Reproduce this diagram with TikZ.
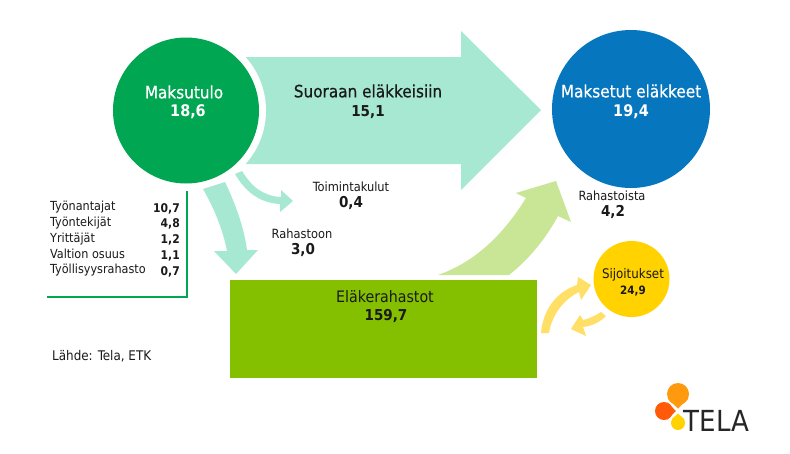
\documentclass[tikz,border=0pt]{standalone}
\usepackage{fontspec}
\setmainfont{DejaVu Sans Condensed}
\newfontfamily\semib[FakeBold=0.5]{DejaVu Sans Condensed}
\definecolor{mint}{HTML}{A6E8D2}
\definecolor{dgreen}{HTML}{00A651}
\definecolor{blueC}{HTML}{0677BF}
\definecolor{lime}{HTML}{84BF00}
\definecolor{paleLime}{HTML}{C9E596}
\definecolor{gold}{HTML}{FFD200}
\definecolor{paleGold}{HTML}{FFDF66}
\definecolor{txt}{HTML}{1A1A1A}
\definecolor{logoO}{HTML}{FF9A0E}
\definecolor{logoR}{HTML}{FF5A0A}
\tikzset{
  lbl/.style={font=\fontsize{12.7}{14}\selectfont, text=txt, inner sep=0pt},
  val/.style={font=\fontsize{15}{17}\selectfont\bfseries, text=txt, inner sep=0pt},
  big/.style={font=\fontsize{17}{19}\selectfont\semib, text=txt, inner sep=0pt},
  wbig/.style={font=\fontsize{17}{19}\selectfont\semib, text=white, inner sep=0pt},
  wval/.style={font=\fontsize{16}{19}\selectfont\bfseries, text=white, inner sep=0pt},
  row/.style={font=\fontsize{12.5}{14}\selectfont, text=txt, inner sep=0pt, anchor=west},
  rowv/.style={font=\fontsize{12}{14}\selectfont\bfseries, text=txt, inner sep=0pt, anchor=east},
}
\begin{document}
\begin{tikzpicture}[x=1pt,y=-1pt]
\useasboundingbox (0,0) rectangle (790,453);
\fill[white] (0,0) rectangle (790,453);
% big arrow
\fill[mint] (230,57) -- (461,57) -- (461,31) -- (541,110) -- (461,190) -- (461,164) -- (230,164) -- cycle;
\fill[white] (186,110.5) circle (80);
\node[big] (a1) at (368,91) {Suoraan eläkkeisiin};
\node[val] (a1v) at (368,112) {15,1};
% circles
\node[circle,fill=dgreen,minimum size=146pt,inner sep=0pt] (mt) at (186,110.5) {};
\node[wbig] at (184,92) {Maksutulo};
\node[wval] at (188,112) {18,6};
\node[circle,fill=blueC,minimum size=158pt,inner sep=0pt] (me) at (631,109) {};
\node[wbig] at (631,91) {Maksetut eläkkeet};
\node[wval] at (631,112) {19,4};
% small arrows
\fill[mint] (242,171) .. controls (252,187) and (263,196) .. (281,197) -- (281,190) -- (293,201) -- (280,212) -- (280,204)
  .. controls (259,203) and (245,191) .. (235,174) -- cycle;
\fill[mint] (203,189) -- (225,182) .. controls (236,205) and (244,228) .. (247,250) -- (258,250) -- (236,274) -- (214,251) -- (227,251)
  .. controls (223,230) and (214,208) .. cycle;
% bracket
\draw[dgreen,line width=2.5pt] (187,191) -- (187,297) -- (47,297);
% table
\node[row] at (50,207) {Työnantajat}; \node[rowv] at (180,209) {10,7};
\node[row] at (50,223) {Työntekijät}; \node[rowv] at (180,224) {4,8};
\node[row] at (50,239) {Yrittäjät}; \node[rowv] at (180,240) {1,2};
\node[row] at (50,254) {Valtion osuus}; \node[rowv] at (180,256) {1,1};
\node[row] at (50,270) {Työllisyysrahasto}; \node[rowv] at (180,272) {0,7};
\node[lbl] at (351,187) {Toimintakulut};
\node[val] at (351,203) {0,4};
\node[lbl] at (302,234) {Rahastoon};
\node[val] at (303,250) {3,0};
\node[font=\fontsize{13.3}{15}\selectfont, text=txt, inner sep=0pt, anchor=west] at (52,356) {Lähde: Tela, ETK};
% funds
\node[rectangle,fill=lime,minimum width=307pt,minimum height=98pt,inner sep=0pt] (er) at (383.5,329) {};
\node[font=\fontsize{15.8}{18}\selectfont, text=txt, inner sep=0pt] at (385,297) {Eläkerahastot};
\node[val] at (386,316) {159,7};
% up arrow
\fill[paleLime] (438,275) .. controls (475,262) and (503,235) .. (526,198) -- (516,193) -- (556,181) -- (571,222) -- (558,216)
  .. controls (545,240) and (528,260) .. (509,275) -- cycle;
\node[lbl] at (612,196) {Rahastoista};
\node[val] at (613,212) {4,2};
% sijoitukset
\node[circle,fill=gold,minimum size=76pt,inner sep=0pt] (si) at (631.5,279) {};
\node[font=\fontsize{13.2}{15}\selectfont, text=txt, inner sep=0pt] at (633,275) {Sijoitukset};
\node[font=\fontsize{11.5}{13}\selectfont\bfseries, text=txt, inner sep=0pt] at (633,291) {24,9};
\fill[paleGold] (541,333) .. controls (543,310) and (556,292) .. (577,285) -- (578,277) -- (591,285) -- (581,300) -- (579,292)
  .. controls (563,300) and (552,315) .. (549,333) -- cycle;
\fill[paleGold] (606,316) -- (601,312) .. controls (595,316) and (588,319) .. (583,320) -- (580,315) -- (571,329) -- (586,336) -- (583,327)
  .. controls (592,326) and (600,322) .. (606,316) -- cycle;
% logo
\fill[logoO] (678,394) circle (11);
\fill[logoO] (668,399) -- (678,408.5) -- (688,399) -- cycle;
\fill[logoR] (664,411) circle (9);
\fill[logoR] (667,402.5) -- (676,411) -- (667,419.5) -- cycle;
\fill[gold] (678,423) circle (7);
\fill[gold] (672,419) -- (678,413.5) -- (684,419) -- cycle;
\node[font=\fontsize{29}{30}\selectfont, text=black!85, inner sep=0pt, anchor=base west] (tl) at (683.5,431) {TELA};
\end{tikzpicture}
\end{document}
